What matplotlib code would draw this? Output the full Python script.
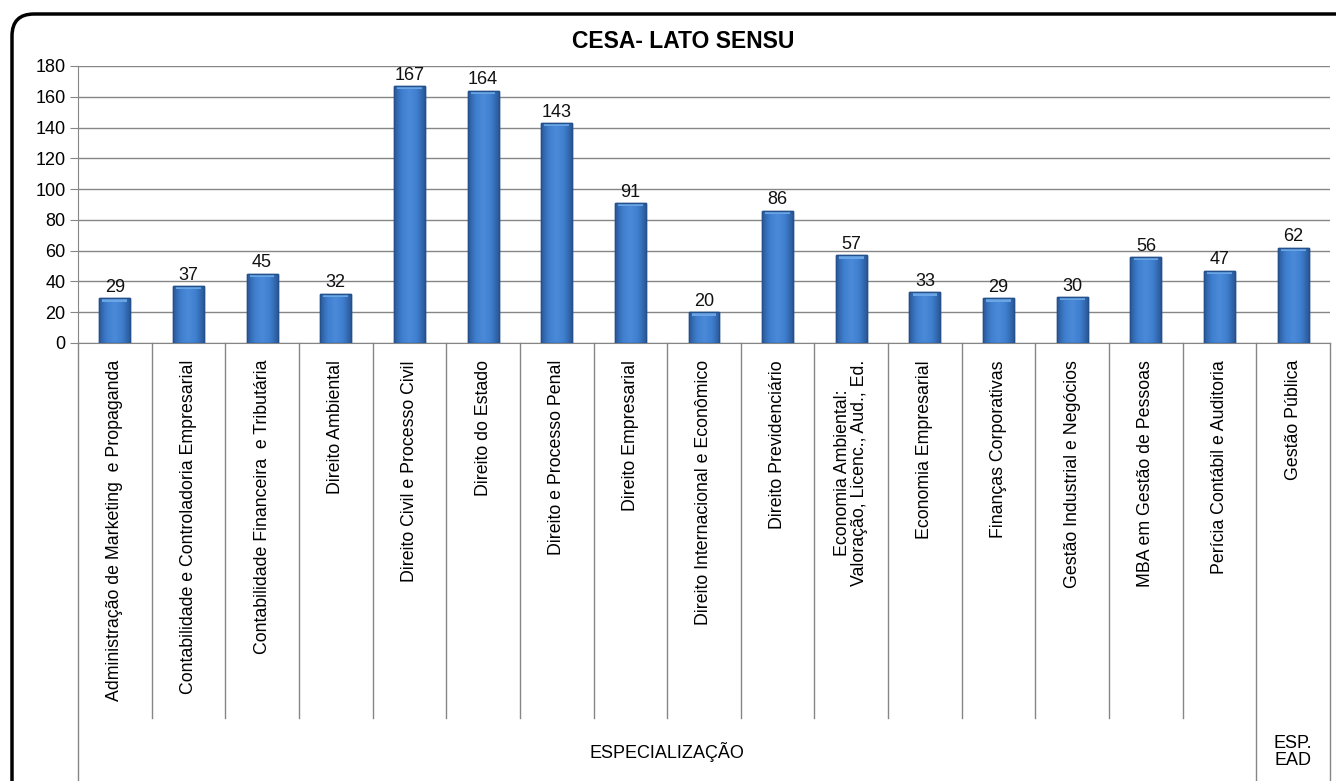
import numpy as np
import matplotlib.pyplot as plt
from matplotlib.patches import FancyBboxPatch
from matplotlib.colors import LinearSegmentedColormap
import matplotlib.transforms as mtransforms

plt.rcParams['font.family'] = ['Liberation Sans', 'DejaVu Sans']

courses = [
    'Administração de Marketing  e Propaganda',
    'Contabilidade e Controladoria Empresarial',
    'Contabilidade Financeira  e Tributária',
    'Direito Ambiental',
    'Direito Civil e Processo Civil',
    'Direito do Estado',
    'Direito e Processo Penal',
    'Direito Empresarial',
    'Direito Internacional e Econômico',
    'Direito Previdenciário',
    'Economia Ambiental:\nValoração, Licenc., Aud., Ed.',
    'Economia Empresarial',
    'Finanças Corporativas',
    'Gestão Industrial e Negócios',
    'MBA em Gestão de Pessoas',
    'Perícia Contábil e Auditoria',
    'Gestão Pública',
]
students = [29, 37, 45, 32, 167, 164, 143, 91, 20, 86, 57, 33, 29, 30, 56, 47, 62]
groups = ['ESPECIALIZAÇÃO', 'ESP.\nEAD']
group_sizes = [16, 1]

W, H = 1336, 781
fig = plt.figure(figsize=(W / 100, H / 100), dpi=100)

# background axes in pixel units for the rounded frame
bg = fig.add_axes([0, 0, 1, 1])
bg.set_xlim(0, W)
bg.set_ylim(H, 0)
bg.axis('off')
bg.add_patch(FancyBboxPatch((12, 14), 1400, 850, boxstyle='round,pad=0,rounding_size=22',
                            fill=False, edgecolor='black', linewidth=2.5))

x0, x1, ytop, ybot = 78, 1330, 66, 343
ax = fig.add_axes([x0 / W, 1 - ybot / H, (x1 - x0) / W, (ybot - ytop) / H])
x = np.arange(len(courses))
bw = 0.42
bars = ax.bar(x, students, width=bw, color='#3b76c4', edgecolor='#24508c', linewidth=1, zorder=3)

# bevelled look: horizontal gradient inside each bar
cmap = LinearSegmentedColormap.from_list('bev', ['#2b5a9a', '#3f7fcf', '#4a8ad8', '#3f7fcf', '#2b5a9a'])
grad = np.linspace(0, 1, 64).reshape(1, -1)
for b, v in zip(bars, students):
    im = ax.imshow(grad, cmap=cmap, aspect='auto', zorder=3.5,
                   extent=(b.get_x(), b.get_x() + bw, 0, v), interpolation='bicubic')
    im.set_clip_path(b)
    ax.bar(b.get_x() + bw / 2, 2.2, bottom=v - 2.2, width=bw * 0.8, color='#6aa6e6',
           linewidth=0, zorder=4)
    ax.bar(b.get_x() + bw / 2, v, width=bw, fill=False, edgecolor='#24508c',
           linewidth=1, zorder=4.5)

for xi, v in zip(x, students):
    ax.text(xi, v + 1.5, str(v), ha='center', va='bottom', fontsize=13, color='#111111')

ax.set_xlim(-0.5, len(courses) - 0.5)
ax.set_ylim(0, 180)
ax.set_yticks(np.arange(0, 181, 20))
ax.tick_params(axis='y', labelsize=13, length=6, color='#868686', pad=3)
ax.set_xticks([])
ax.yaxis.grid(True, color='#868686', linewidth=1, zorder=0)
for s in ['top', 'right']:
    ax.spines[s].set_visible(False)
ax.spines['left'].set_color('#868686')
ax.spines['bottom'].set_color('#868686')

fig.text(683 / W, 1 - 42 / H, 'CESA- LATO SENSU', ha='center', va='center',
         fontsize=16.5, fontweight='bold')

# category labels and separators below the axis
trans = mtransforms.blended_transform_factory(ax.transData, ax.transAxes)
px = 1.0 / (ybot - ytop)
cat_bottom = -(718 - ybot) * px
fig_bottom = -(H - ybot) * px - 0.05
for xi, name in zip(x, courses):
    ax.text(xi, -(360 - ybot) * px, name, rotation=90, ha='center', va='top',
            fontsize=12.8, transform=trans, linespacing=1.0)

bounds = np.cumsum([0] + group_sizes) - 0.5
for b in np.arange(len(courses) + 1) - 0.5:
    yb = fig_bottom if np.any(np.isclose(b, bounds)) else cat_bottom
    ax.plot([b, b], [0, yb], color='#868686', linewidth=1, transform=trans, clip_on=False)

start = 0
for g, n in zip(groups, group_sizes):
    mid = start + (n - 1) / 2
    ax.text(mid, -(752 - ybot) * px, g, ha='center', va='center', fontsize=13,
            transform=trans, linespacing=1.0)
    start += n

fig.savefig('out.png', dpi=100)
